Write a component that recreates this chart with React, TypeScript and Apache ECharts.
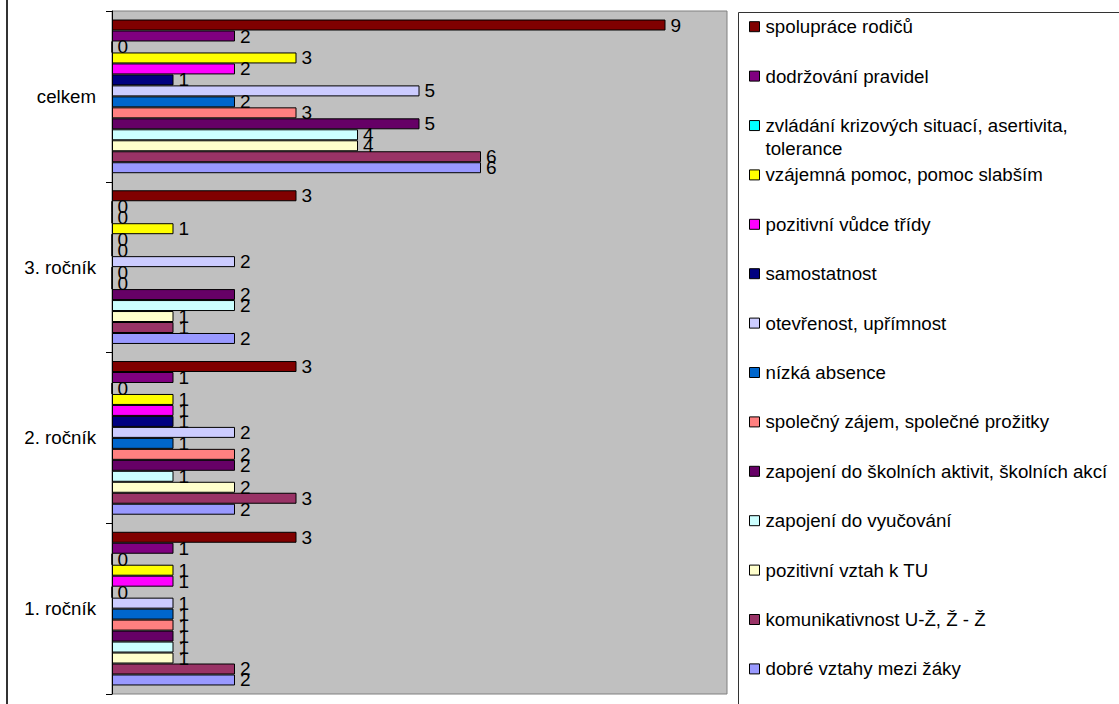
import React, { useEffect, useRef } from "react";
import * as echarts from "echarts";

// Categories (bottom to top on the chart)
const categories = ["1. ročník", "2. ročník", "3. ročník", "celkem"];

// Series names (legend order, top to bottom)
const seriesNames = [
  "spolupráce rodičů",
  "dodržování pravidel",
  "zvládání krizových situací, asertivita, tolerance",
  "vzájemná pomoc, pomoc slabším",
  "pozitivní vůdce třídy",
  "samostatnost",
  "otevřenost, upřímnost",
  "nízká absence",
  "společný zájem, společné prožitky",
  "zapojení do školních aktivit, školních akcí",
  "zapojení do vyučování",
  "pozitivní vztah k TU",
  "komunikativnost U-Ž, Ž - Ž",
  "dobré vztahy mezi žáky",
];

// Values per series, in the order of categories
const spolupraceRodicu = [3, 3, 3, 9];
const dodrzovaniPravidel = [1, 1, 0, 2];
const zvladaniKrizovychSituaci = [0, 0, 0, 0];
const vzajemnaPomoc = [1, 1, 1, 3];
const pozitivniVudceTridy = [1, 1, 0, 2];
const samostatnost = [0, 1, 0, 1];
const otevrenost = [1, 2, 2, 5];
const nizkaAbsence = [1, 1, 0, 2];
const spolecnyZajem = [1, 2, 0, 3];
const zapojeniDoSkolnichAktivit = [1, 2, 2, 5];
const zapojeniDoVyucovani = [1, 1, 2, 4];
const pozitivniVztahKTU = [1, 2, 1, 4];
const komunikativnost = [2, 3, 1, 6];
const dobreVztahy = [2, 2, 2, 6];

const seriesValues = [
  spolupraceRodicu,
  dodrzovaniPravidel,
  zvladaniKrizovychSituaci,
  vzajemnaPomoc,
  pozitivniVudceTridy,
  samostatnost,
  otevrenost,
  nizkaAbsence,
  spolecnyZajem,
  zapojeniDoSkolnichAktivit,
  zapojeniDoVyucovani,
  pozitivniVztahKTU,
  komunikativnost,
  dobreVztahy,
];

const seriesColors = [
  "#800000",
  "#800080",
  "#00FFFF",
  "#FFFF00",
  "#FF00FF",
  "#000080",
  "#CCCCFF",
  "#0066CC",
  "#FF8080",
  "#660066",
  "#CCFFFF",
  "#FFFFCC",
  "#993366",
  "#9999FF",
];

const FONT = "'Liberation Sans', Arial, sans-serif";

export default function App() {
  const ref = useRef<HTMLDivElement>(null);

  useEffect(() => {
    if (!ref.current) return;
    const chart = echarts.init(ref.current, undefined, { renderer: "svg" });

    // ECharts places the first series at the top of each horizontal group
    const series = seriesNames.map((name, i) => ({
      type: "bar",
      name,
      data: seriesValues[i],
      barGap: "0%",
      barCategoryGap: "10%",
      itemStyle: { color: seriesColors[i], borderColor: "#000", borderWidth: 1 },
      label: {
        show: true,
        position: "right",
        distance: 5,
        color: "#000",
        fontSize: 19,
        fontFamily: FONT,
      },
    }));

    const legendStart = 26.7;
    const legendStep = 49.4;
    const legends = seriesNames.map((name, i) => {
      const wrapped = name.startsWith("zvládání");
      const center = legendStart + legendStep * i;
      return {
        data: [name],
        left: 749,
        top: wrapped ? center - 34 : center - 9.5,
        orient: "vertical",
        itemWidth: 10,
        itemHeight: 10,
        itemGap: 0,
        padding: 0,
        selectedMode: false,
        icon: "rect",
        itemStyle: { borderColor: "#000", borderWidth: 1 },
        formatter: wrapped
          ? () => "\nzvládání krizových situací, asertivita,\ntolerance"
          : undefined,
        textStyle: {
          fontSize: 18.7,
          color: "#000",
          fontFamily: FONT,
          padding: [0, 0, 0, 1],
          lineHeight: wrapped ? 22.7 : undefined,
        },
      };
    });

    chart.setOption({
      animation: false,
      backgroundColor: "#fff",
      textStyle: { fontFamily: FONT },
      grid: {
        left: 112,
        right: 392,
        top: 11,
        bottom: 10,
        show: true,
        backgroundColor: "#C0C0C0",
        borderColor: "#808080",
        borderWidth: 1,
        containLabel: false,
      },
      xAxis: {
        type: "value",
        min: 0,
        max: 10,
        axisLine: { show: false },
        axisTick: { show: false },
        axisLabel: { show: false },
        splitLine: { show: false },
      },
      yAxis: {
        type: "category",
        data: categories,
        axisLine: { show: true, lineStyle: { color: "#000", width: 1 } },
        axisTick: { show: true, length: 6, lineStyle: { color: "#000" } },
        axisLabel: {
          color: "#000",
          fontSize: 18.7,
          fontFamily: FONT,
          margin: 16,
        },
      },
      legend: legends,
      graphic: [
        {
          type: "line",
          shape: { x1: 7, y1: 0, x2: 7, y2: 704 },
          style: { stroke: "#333", lineWidth: 2 },
        },
        {
          type: "rect",
          shape: { x: 738.5, y: 12.5, width: 420, height: 720 },
          style: { fill: "none", stroke: "#333", lineWidth: 1 },
        },
      ],
      series,
    });

    return () => chart.dispose();
  }, []);

  return (
    <div
      ref={ref}
      style={{ position: "absolute", left: 0, top: 0, width: 1119, height: 704 }}
    />
  );
}
